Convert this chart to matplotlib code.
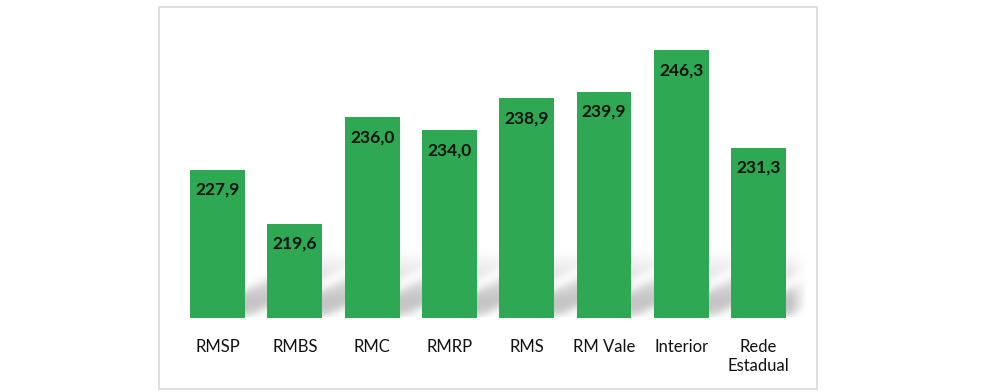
import matplotlib
matplotlib.use("Agg")
import matplotlib.pyplot as plt
from matplotlib.patches import Rectangle
import numpy as np

categories = ["RMSP", "RMBS", "RMC", "RMRP", "RMS", "RM Vale", "Interior", "Rede\nEstadual"]
values = [227.9, 219.6, 236.0, 234.0, 238.9, 239.9, 246.3, 231.3]
value_labels = ["227,9", "219,6", "236,0", "234,0", "238,9", "239,9", "246,3", "231,3"]

plt.rcParams['font.family'] = ['Lato', 'DejaVu Sans']

fig = plt.figure(figsize=(9.81, 3.92), dpi=100)
W, H = 981, 392
fig.patches.append(Rectangle((159/W, 1 - 389/H), (817-159)/W, (389-7)/H, transform=fig.transFigure,
                             fill=False, edgecolor='#D9D9D9', linewidth=1.2))
ax = fig.add_axes([178.85/W, 1 - 318/H, (830-178.85)/W, (318-26.4)/H])
ymin, ymax = 205.05, 250.0
x = np.arange(len(categories))
bw = 0.71
ax.set_xlim(-0.5, -0.5 + (830-178.85)/77.3)
ax.set_ylim(ymin, ymax)

# soft slanted shadow behind bars (computed in data space)
xl, xr = ax.get_xlim()
nx, ny = 1400, 600
gx = np.linspace(xl, xr, nx)
gy = np.linspace(ymin, ymax, ny)
X, Y = np.meshgrid(gx, gy)
px_per_x = 77.3
px_per_y = (318 - 26.4) / (ymax - ymin)
t_px = (Y - ymin) * px_per_y
shift = 2.0 * t_px / px_per_x
prof = 0.42 * np.clip(0.45 + t_px / 14, 0, 1) * np.clip(1 - (t_px - 18) / 48, 0, 1)
alpha = np.zeros_like(X)
for xi in x:
    inside = (X >= xi - bw/2 + shift) & (X <= xi + bw/2 + shift)
    alpha = np.maximum(alpha, np.where(inside, prof, 0))
def blur(a, sig, axis):
    r = int(3*sig)
    k = np.exp(-0.5*(np.arange(-r, r+1)/sig)**2); k /= k.sum()
    return np.apply_along_axis(lambda v: np.convolve(v, k, mode='same'), axis, a)
sx = 4 * nx / ((xr - xl) * px_per_x)
sy = 4 * ny / ((ymax - ymin) * px_per_y)
alpha = blur(blur(alpha, sx, 1), sy, 0)
alpha[t_px < 0.5] = 0
# fade out past the last bar
last_r = x[-1] + bw/2
d_px = (X - last_r) * px_per_x
alpha *= np.clip(1 - (d_px - 4) / 16, 0, 1)
img = np.zeros((ny, nx, 4))
img[..., :3] = 0.45
img[..., 3] = alpha
ax.imshow(img, extent=(xl, xr, ymin, ymax), origin='lower', aspect='auto', zorder=1, interpolation='bilinear')

ax.bar(x, [v - ymin for v in values], bottom=ymin, width=bw, color='#2EA852', zorder=3)
for xi, v, lab in zip(x, values, value_labels):
    ax.annotate(lab, (xi, v), xytext=(0, -20), textcoords='offset pixels',
                ha='center', va='center', fontsize=12.5, fontweight='bold', color='#111111', zorder=4)

ax.set_xlim(xl, xr)
ax.set_ylim(ymin, ymax)
ax.set_xticks(x)
ax.set_xticklabels(categories, fontsize=12, color='#111111', linespacing=1.25)
ax.tick_params(axis='x', length=0, pad=15)
ax.set_yticks([])
for s in ax.spines.values():
    s.set_visible(False)
ax.patch.set_alpha(0)

fig.savefig("out.png", dpi=100)
